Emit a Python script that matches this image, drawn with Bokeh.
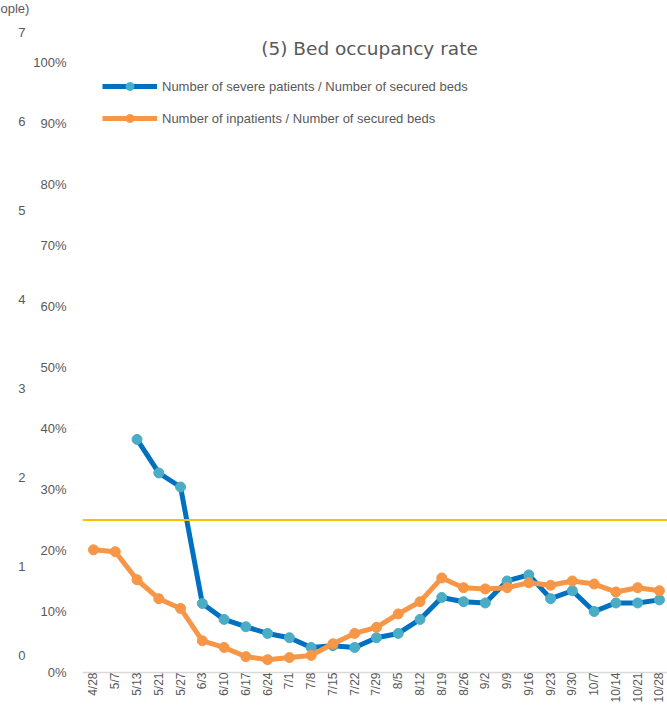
import math
from bokeh.plotting import figure
from bokeh.models import (Range1d, LinearAxis, FixedTicker, PrintfTickFormatter, ColumnDataSource,
                          Legend, LegendItem, Label, Span, Title)
from bokeh.embed import file_html
from bokeh.resources import INLINE

nan = float("nan")

# ---- data ----
dates = ["4/28", "5/7", "5/13", "5/21", "5/27", "6/3", "6/10", "6/17", "6/24", "7/1", "7/8",
         "7/15", "7/22", "7/29", "8/5", "8/12", "8/19", "8/26", "9/2", "9/9", "9/16", "9/23",
         "9/30", "10/7", "10/14", "10/21", "10/28"]
severe_rate = [nan, nan, 38.2, 32.7, 30.4, 11.3, 8.7, 7.5, 6.4, 5.7, 4.1, 4.4, 4.1, 5.7, 6.4,
               8.7, 12.3, 11.6, 11.4, 15.0, 16.0, 12.1, 13.4, 10.0, 11.4, 11.4, 11.9]
inpatient_rate = [20.1, 19.8, 15.2, 12.1, 10.5, 5.2, 4.1, 2.6, 2.1, 2.45, 2.8, 4.7, 6.4, 7.4, 9.6,
                  11.6, 15.5, 13.9, 13.7, 13.9, 14.7, 14.3, 15.0, 14.5, 13.2, 13.9, 13.4]
pct_ticks = [0, 10, 20, 30, 40, 50, 60, 70, 80, 90, 100]
people_ticks = [0, 1, 2, 3, 4, 5, 6, 7]
threshold = 25
title_text = "(5) Bed occupancy rate"
unit_fragment = "ople)"
severe_label = "Number of severe patients / Number of secured beds"
inpatient_label = "Number of inpatients / Number of secured beds"

idx = list(range(len(dates)))
src = ColumnDataSource(dict(x=idx, severe=severe_rate, inpat=inpatient_rate))

GRAY = "#595959"
FONT = "Liberation Sans"

p = figure(width=667, height=705, output_backend="svg", toolbar_location=None,
           x_range=Range1d(-0.505, 26.37), y_range=Range1d(0, 107.35),
           min_border_left=82, min_border_right=0, min_border_top=15, min_border_bottom=33)
p.outline_line_color = None
p.xgrid.visible = False
p.ygrid.visible = False
p.background_fill_color = "white"
p.border_fill_color = "white"

p.add_layout(Title(text=unit_fragment, align="left", offset=-82, text_font=FONT,
                   text_font_size="13px", text_color=GRAY, text_font_style="normal",
                   vertical_align="top", standoff=0), "above")

# x axis
p.xaxis.ticker = FixedTicker(ticks=idx)
p.xaxis.major_label_overrides = {i: d for i, d in zip(idx, dates)}
p.xaxis.major_label_orientation = math.pi / 2
p.xaxis.axis_line_color = "#d9d9d9"
p.xaxis.axis_line_width = 1.5
p.xaxis.major_tick_line_color = None
p.xaxis.major_tick_out = 0
p.xaxis.minor_tick_line_color = None
p.xaxis.major_label_standoff = 0
p.xaxis.major_label_text_font = FONT
p.xaxis.major_label_text_font_size = "12px"
p.xaxis.major_label_text_color = GRAY

# percentage axis
p.yaxis.ticker = FixedTicker(ticks=pct_ticks)
p.yaxis.formatter = PrintfTickFormatter(format="%d%%")
p.yaxis.axis_line_color = None
p.yaxis.major_tick_line_color = None
p.yaxis.major_tick_out = 0
p.yaxis.minor_tick_line_color = None
p.yaxis.major_label_standoff = 16
p.yaxis.major_label_text_font = FONT
p.yaxis.major_label_text_font_size = "13px"
p.yaxis.major_label_text_color = GRAY

# people axis (from the overlaid chart)
p.extra_y_ranges = {"people": Range1d(-0.19, 7.17)}
ax2 = LinearAxis(y_range_name="people", ticker=FixedTicker(ticks=people_ticks))
ax2.axis_line_color = None
ax2.major_tick_line_color = None
ax2.major_tick_out = 0
ax2.minor_tick_line_color = None
ax2.major_label_standoff = 5
ax2.major_label_text_font = FONT
ax2.major_label_text_font_size = "13px"
ax2.major_label_text_color = GRAY
p.add_layout(ax2, "left")

# series
bl = p.line("x", "severe", source=src, line_color="#0070C0", line_width=5)
bp = p.scatter("x", "severe", source=src, size=10, fill_color="#4BACC6", line_color="#4BACC6")
ol = p.line("x", "inpat", source=src, line_color="#F79646", line_width=5)
op = p.scatter("x", "inpat", source=src, size=10, fill_color="#F79646", line_color="#F79646")

p.add_layout(Span(location=threshold, dimension="width", line_color="#FFC000", line_width=2))

# chart title drawn inside the plot area
p.add_layout(Label(x=287, y=624, x_units="screen", y_units="screen", text=title_text,
                   text_align="center", text_baseline="middle", text_font="DejaVu Sans",
                   text_font_size="18.5px", text_color=GRAY))

legend = Legend(items=[LegendItem(label=severe_label, renderers=[bl, bp]),
                       LegendItem(label=inpatient_label, renderers=[ol, op])],
                location=(20, 544), orientation="vertical")
legend.label_text_font = FONT
legend.label_text_font_size = "13px"
legend.label_text_color = GRAY
legend.glyph_width = 55
legend.glyph_height = 20
legend.label_height = 20
legend.label_standoff = 5
legend.spacing = 12
legend.padding = 0
legend.margin = 0
legend.border_line_color = None
legend.background_fill_alpha = 0
p.add_layout(legend, "center")

open("out.html", "w").write(file_html(p, INLINE))
